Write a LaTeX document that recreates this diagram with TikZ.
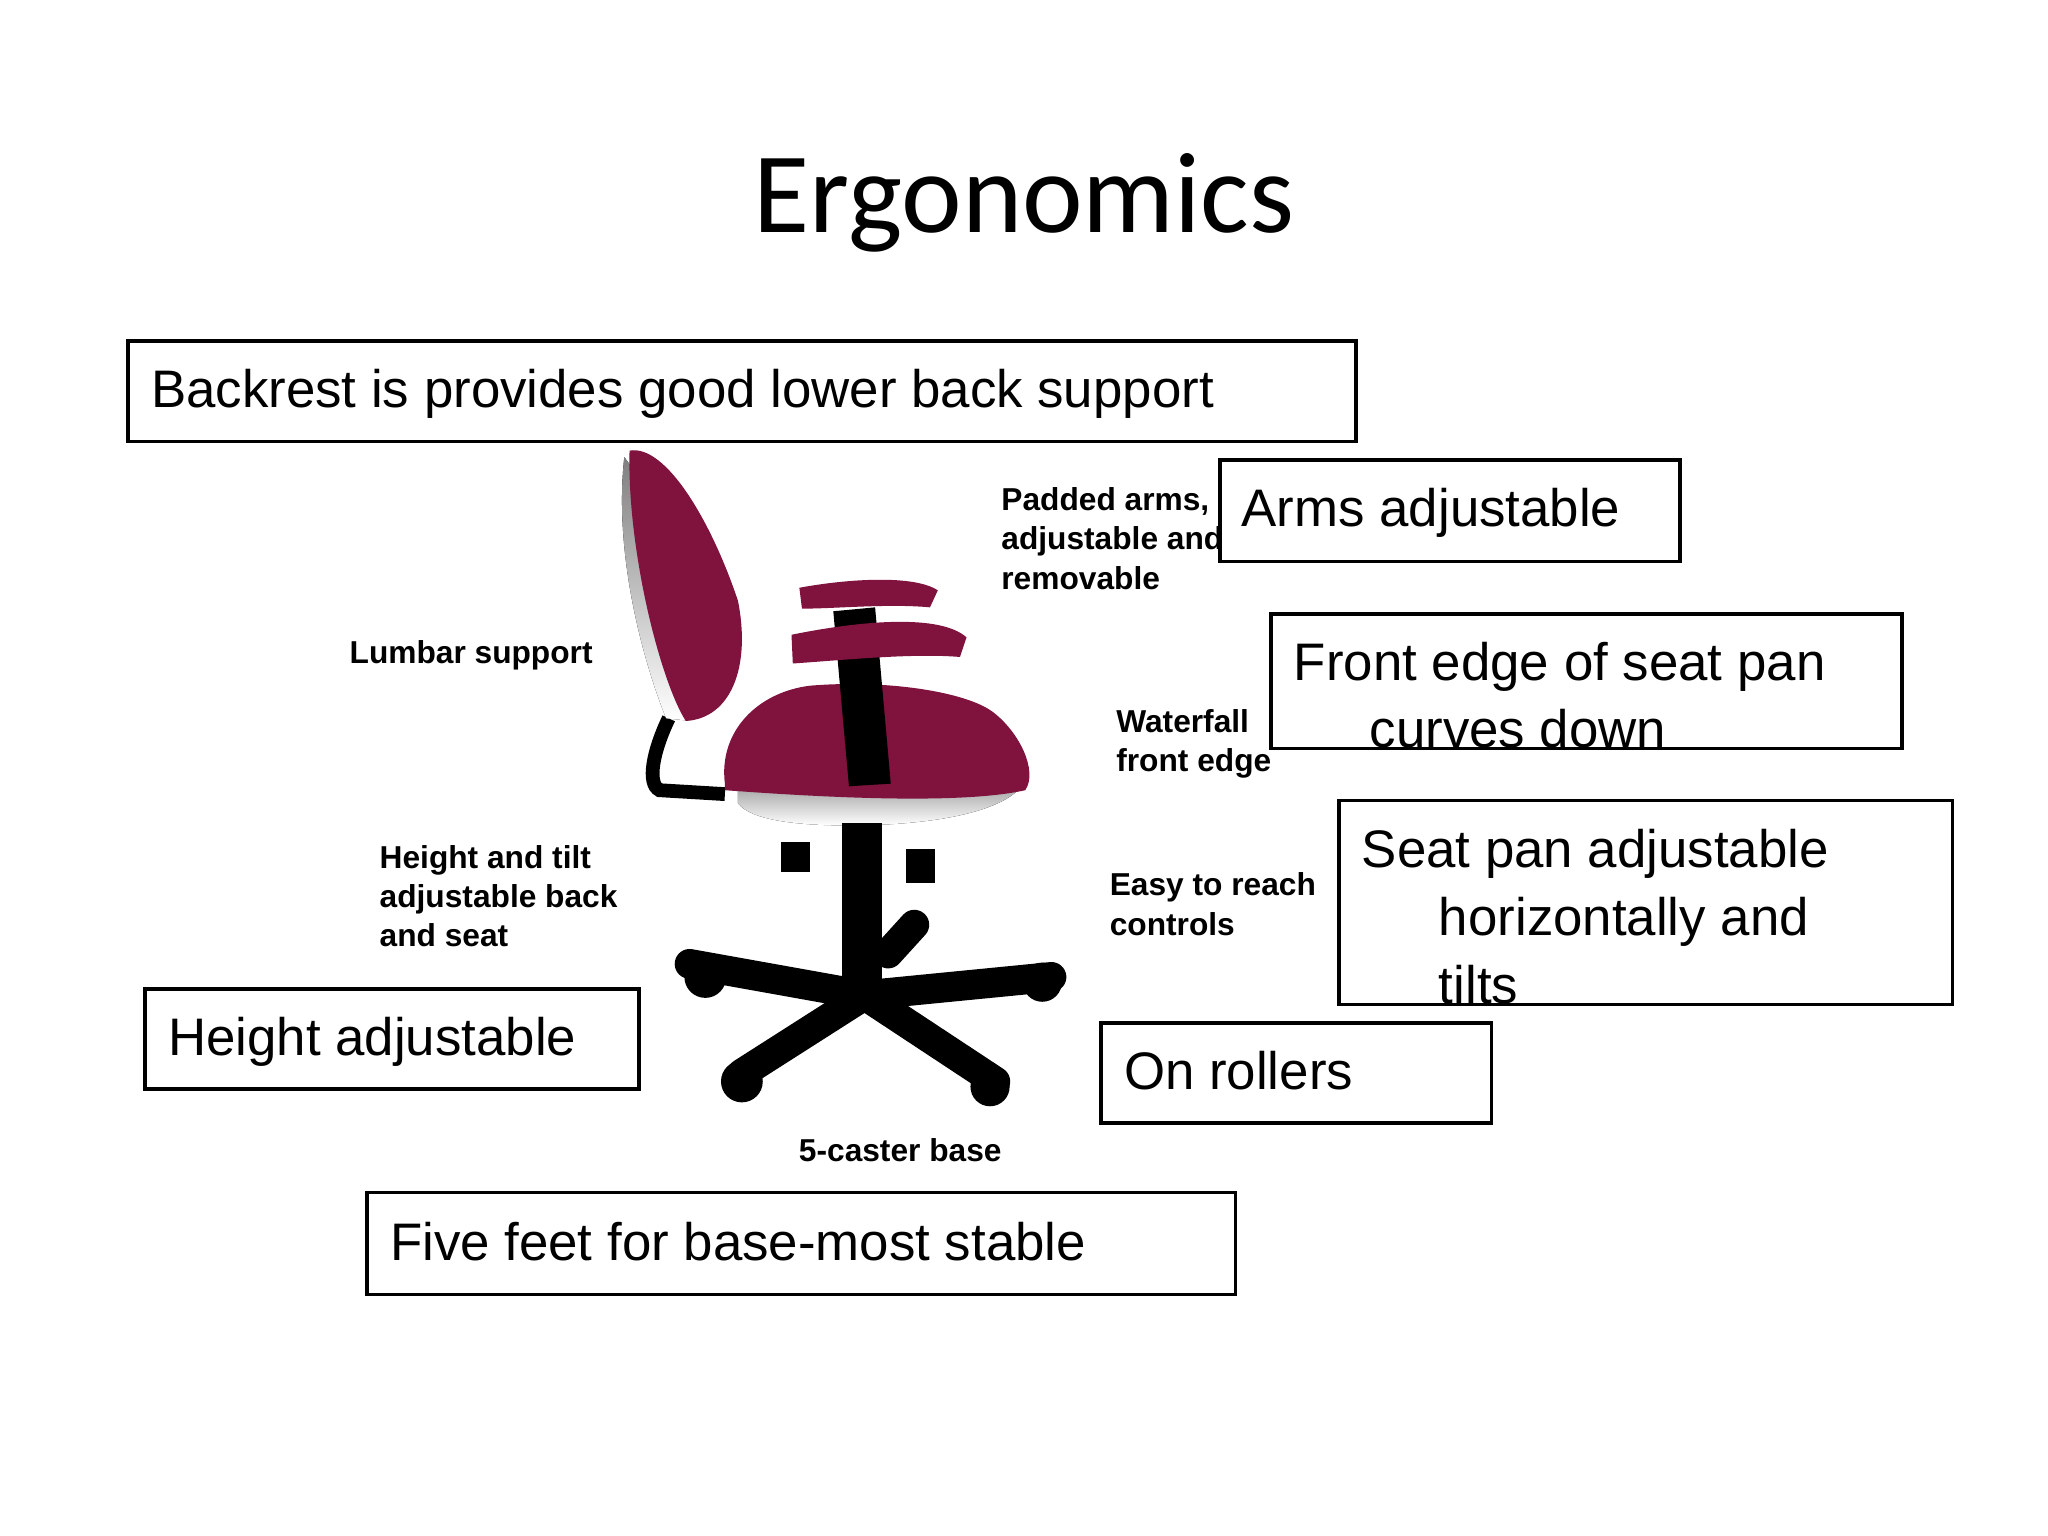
\documentclass[tikz,border=0pt]{standalone}
\usepackage{fontspec}
\setmainfont{Liberation Sans}
\newfontfamily\titlefont{Carlito}
\definecolor{maroon}{RGB}{128,18,62}
\definecolor{shade}{RGB}{90,90,90}
\begin{document}
\begin{tikzpicture}[x=0.01cm,y=-0.01cm,
  box/.style={draw,line width=0.8pt,inner sep=0pt},
  bt/.style={anchor=base west,font=\fontsize{11.5}{13}\selectfont,inner sep=0pt},
  lab/.style={anchor=base west,font=\bfseries\fontsize{6.9}{8}\selectfont,inner sep=0pt},
  leg/.style={line width=6.5pt,line cap=round,black},
  caster/.style={fill=black}]
\useasboundingbox[fill=white] (0,0) rectangle (1568,1176);
\node[font=\titlefont\fontsize{25}{28}\selectfont] (title) at (784,155) {Ergonomics};
% boxes
\draw[box] (98,261) rectangle (1038,338);
\node[bt] (t1) at (115,312) {Backrest is provides good lower back support};
\draw[box] (934,352) rectangle (1286,430);
\node[bt] (t2) at (950,403) {Arms adjustable};
\draw[box] (973,470) rectangle (1456,573);
\node[bt] (t3a) at (990,521) {Front edge of seat pan};
\node[bt] (t3b) at (1048,572) {curves down};
\draw[box] (1025,613) rectangle (1495,769);
\node[bt] (t4a) at (1042,664) {Seat pan adjustable};
\node[bt] (t4b) at (1101,716) {horizontally and};
\node[bt] (t4c) at (1101,768) {tilts};
\draw[box] (111,757) rectangle (489,834);
\node[bt] (t5) at (128,808) {Height adjustable};
\draw[box] (843,783) rectangle (1142,860);
\node[bt] (t6) at (860,834) {On rollers};
\draw[box] (281,913) rectangle (946,991);
\node[bt] (t7) at (298,965) {Five feet for base-most stable};
% small labels
\node[lab] (l1a) at (766,391) {Padded arms,};
\node[lab] (l1b) at (766,421) {adjustable and};
\node[lab] (l1c) at (766,451) {removable};
\node[lab] (l2) at (267,508) {Lumbar support};
\node[lab] (l3a) at (854,561) {Waterfall};
\node[lab] (l3b) at (854,591) {front edge};
\node[lab] (l4a) at (290,665) {Height and tilt};
\node[lab] (l4b) at (290,695) {adjustable back};
\node[lab] (l4c) at (290,725) {and seat};
\node[lab] (l5a) at (849,686) {Easy to reach};
\node[lab] (l5b) at (849,716) {controls};
\node[lab] (l6) at (611,889) {5-caster base};
% chair: back bracket
\draw[line width=3pt] (512,550) .. controls (500,575) and (495,600) .. (505,605) -- (555,608);
% backrest
\fill[shade] (478,350) .. controls (470,420) and (490,500) .. (510,550) -- (530,552) -- (500,380) -- cycle;
\fill[maroon] (482,345) .. controls (510,340) and (545,400) .. (565,460) .. controls (575,510) and (560,550) .. (525,552) .. controls (505,520) and (480,420) .. (482,345) -- cycle;
% seat underside
\fill[shade] (565,590) -- (785,598) .. controls (770,625) and (700,632) .. (650,632) .. controls (610,632) and (575,628) .. (565,615) -- cycle;
% seat
\fill[maroon] (555,600) .. controls (550,560) and (580,530) .. (620,525) .. controls (680,520) and (740,530) .. (760,545) .. controls (780,560) and (795,590) .. (785,605) .. controls (740,615) and (650,612) .. (555,605) -- cycle;
% column
\fill[black] (638,468) -- (670,465) -- (682,600) -- (650,602) -- cycle;
\fill[black] (645,630) rectangle (675,760);
% arms
\fill[maroon] (612,450) .. controls (650,443) and (700,440) .. (718,452) -- (712,465) .. controls (680,462) and (640,466) .. (614,466) -- cycle;
\fill[maroon] (606,486) .. controls (660,475) and (720,470) .. (740,488) -- (735,503) .. controls (700,500) and (650,505) .. (607,508) -- cycle;
% knobs
\fill[black] (598,645) rectangle (620,668);
\fill[black] (694,650) rectangle (716,676);
\draw[leg] (680,730) -- (700,708);
% base legs
\draw[leg] (662,762) -- (528,738);
\draw[leg] (662,762) -- (805,748);
\draw[leg] (662,762) -- (568,822);
\draw[leg] (662,762) -- (762,828);
% casters
\fill[caster] (540,748) circle (16);
\fill[caster] (798,752) circle (15);
\fill[caster] (568,828) circle (16);
\fill[caster] (758,832) circle (15);
\end{tikzpicture}
\end{document}
